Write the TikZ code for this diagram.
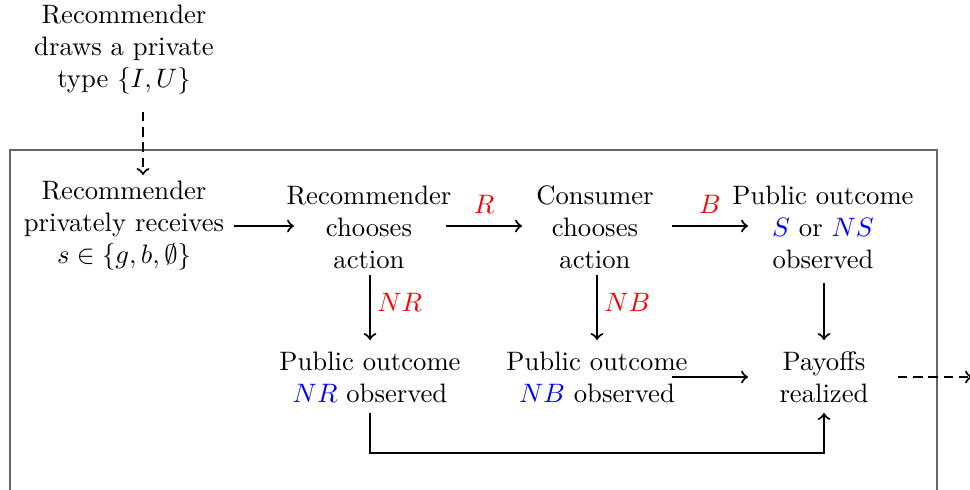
\documentclass[tikz,border=0pt]{standalone}
\usetikzlibrary{calc}
\begin{document}
\begin{tikzpicture}[x=0.375pt,y=-0.375pt,
  txt/.style={align=center},
  arr/.style={->,thick},
  darr/.style={->,thick,dash pattern=on 3.5pt off 2.2pt},
  lbl/.style={text=red}]
\clip (0,0) rectangle (970,489);
\draw[gray!80!black] (10,150) rectangle (937,540);

\node[txt] (type) at (124,50) {Recommender\\draws a private\\type $\{I,U\}$};
\node[txt] (recv) at (124,226) {Recommender\\privately receives\\$s\in\{g,b,\emptyset\}$};
\node[txt] (choose) at (369,227) {Recommender\\chooses\\action};
\node[txt] (cons) at (595,227) {Consumer\\chooses\\action};
\node[txt] (pubS) at (823,227) {Public outcome\\\textcolor{blue}{$S$} or \textcolor{blue}{$NS$}\\observed};
\node[txt] (pubNR) at (370,377) {Public outcome\\\textcolor{blue}{$NR$} observed};
\node[txt] (pubNB) at (597,377) {Public outcome\\\textcolor{blue}{$NB$} observed};
\node[txt] (pay) at (824,377) {Payoffs\\realized};
\coordinate (out) at (972,377);

\draw[darr] ($(type.center)+(19,62)$) -- ($(recv.center)+(19,-51)$);
\draw[arr] ($(recv.center)+(110,0)$) -- ($(choose.center)+(-75,-1)$);
\draw[arr] ($(choose.center)+(77,-1)$) -- node[lbl,above=1pt]{$R$} ($(cons.center)+(-73,-1)$);
\draw[arr] ($(cons.center)+(77,-1)$) -- node[lbl,above=1pt]{$B$} ($(pubS.center)+(-75,-1)$);
\draw[arr] ($(choose.center)+(1,48)$) -- node[lbl,right=-1pt,yshift=2pt]{$NR$} ($(pubNR.center)+(0,-37)$);
\draw[arr] ($(cons.center)+(2,48)$) -- node[lbl,right=-1pt,yshift=2pt]{$NB$} ($(pubNB.center)+(0,-37)$);
\draw[arr] ($(pubS.center)+(1,56)$) -- ($(pay.center)+(0,-37)$);
\draw[arr] ($(pubNB.center)+(75,0)$) -- ($(pay.center)+(-76,0)$);
\draw[arr] ($(pubNR.center)+(0,36)$) |- ($(pay.center)+(0,76)$) -- ($(pay.center)+(0,36)$);
\draw[darr] ($(pay.center)+(74,0)$) -- (out);
\end{tikzpicture}
\end{document}
